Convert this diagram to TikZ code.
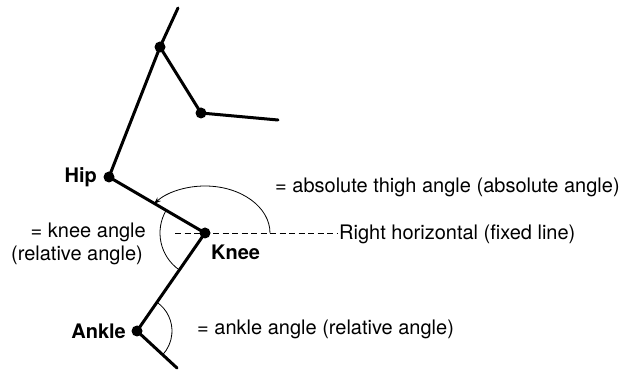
\documentclass[tikz,border=0pt]{standalone}
\usepackage{fontspec}
\setmainfont{TeX Gyre Heros}
\usetikzlibrary{arrows.meta,calc}
\begin{document}
\begin{tikzpicture}[x=1pt,y=-1pt,
  limb/.style={line width=3pt,line cap=round},
  joint/.style={circle,fill=black,inner sep=0pt,minimum size=11pt},
  thin/.style={line width=0.8pt},
  lbl/.style={inner sep=0pt,font=\fontsize{20}{24}\selectfont},
  blbl/.style={inner sep=0pt,font=\fontsize{20}{24}\selectfont\bfseries},
  fixed/.style={line width=0.8pt,dash pattern=on 6pt off 3.5pt}]
\useasboundingbox (0,0) rectangle (632,371);
% joints
\node[joint] (up) at (160,47) {};
\node[joint] (elbow) at (201,113) {};
\node[joint] (hip) at (109,177) {};
\node[joint] (knee) at (205,233) {};
\node[joint] (ankle) at (137,331) {};
\coordinate (top) at (178,8);
\coordinate (hand) at (278,120);
\coordinate (foot) at (177,368);
\coordinate (dl) at (175,233);
\coordinate (dr) at (337,233);
% horizontal reference
\draw[fixed] (dl) -- (dr);
% limbs
\draw[limb] (top) -- (up.center) -- (elbow.center) -- (hand);
\draw[limb] (up.center) -- (hip.center) -- (knee.center) -- (ankle.center) -- (foot);
% angle arcs
\draw[thin,-{Stealth[length=7pt,width=5pt]}] ($(knee.center)+(65,0)$) arc[start angle=0,end angle=-141.7,x radius=65,y radius=47];
\draw[thin] ([shift={(124.8:45)}]knee.center) arc[start angle=124.8,end angle=210.3,radius=45];
\draw[thin] ([shift={(-55.2:35)}]ankle.center) arc[start angle=-55.2,end angle=42.8,radius=35];
% labels
\node[blbl,anchor=base east] (hipl) at (97,183) {Hip};
\node[blbl,anchor=base west] (kneel) at (211,260) {Knee};
\node[blbl,anchor=base east] (anklel) at (126,338) {Ankle};
\node[lbl,anchor=base west] (abs) at (275,193) {= absolute thigh angle (absolute angle)};
\node[lbl,anchor=base west] (rh) at (339,240) {Right horizontal (fixed line)};
\node[lbl,anchor=base east] (ka1) at (146,238) {= knee angle};
\node[lbl,anchor=base east] (ka2) at (143,261) {(relative angle)};
\node[lbl,anchor=base west] (aa) at (197,335) {= ankle angle (relative angle)};
\end{tikzpicture}
\end{document}
